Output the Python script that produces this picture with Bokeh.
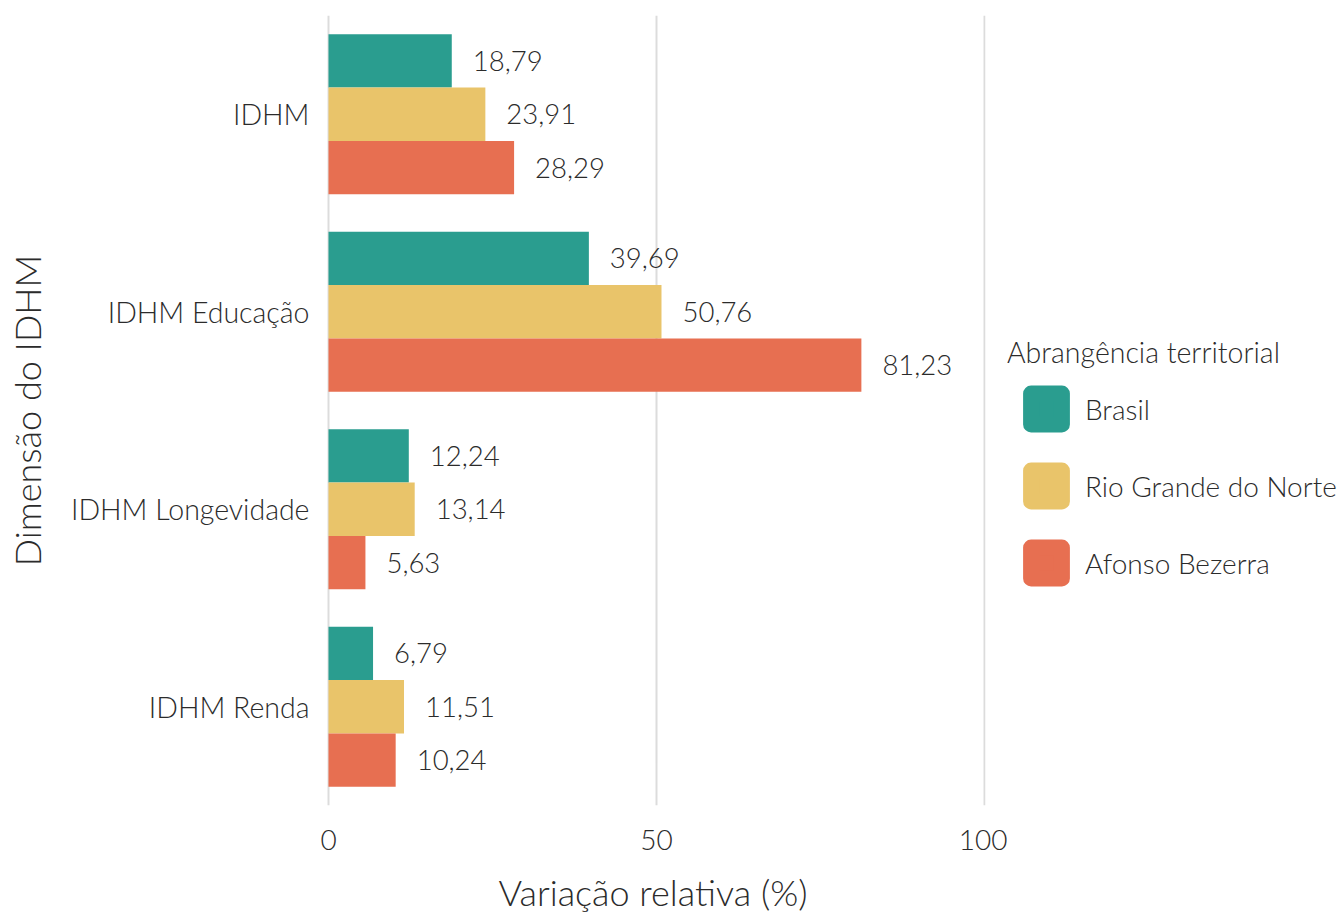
from bokeh.plotting import figure
from bokeh.layouts import row
from bokeh.models import (FactorRange, Range1d, Legend, LegendItem,
                          ColumnDataSource)
from bokeh.transform import dodge
from bokeh.core.properties import value
from bokeh.embed import file_html
from bokeh.resources import INLINE

# ---------------- data ----------------
categories = ["IDHM", "IDHM Educação", "IDHM Longevidade", "IDHM Renda"]
series_names = ["Brasil", "Rio Grande do Norte", "Afonso Bezerra"]
brasil = [18.79, 39.69, 12.24, 6.79]
rio_grande_do_norte = [23.91, 50.76, 13.14, 11.51]
afonso_bezerra = [28.29, 81.23, 5.63, 10.24]
x_ticks = [0, 50, 100]
legend_title = "Abrangência territorial"
x_title = "Variação relativa (%)"
y_title = "Dimensão do IDHM"

# ---------------- style ----------------
FONT = "Lato Light"
TEXT_COLOR = "#2b2b2b"
colors = ["#2A9D8F", "#E9C46A", "#E76F51"]
offsets = [0.27, 0.0, -0.27]
BAR_H = 0.27

p = figure(
    y_range=FactorRange(factors=categories[::-1], range_padding=0),
    x_range=Range1d(-1.22, 100.15),
    width=1007, height=917,
    min_border_left=320, min_border_top=15, min_border_right=22, min_border_bottom=112,
    output_backend="svg", toolbar_location=None,
)
p.outline_line_color = None
p.background_fill_color = "white"
p.border_fill_color = "white"

# legend panel (separate figure to the right, holding only the legend)
pl = figure(width=331, height=917, min_border=0, x_axis_type=None, y_axis_type=None,
            output_backend="svg", toolbar_location=None)
pl.outline_line_color = None
pl.grid.grid_line_color = None
pl.background_fill_color = "white"
pl.border_fill_color = "white"

all_series = [brasil, rio_grande_do_norte, afonso_bezerra]
legend_renderers = []
for name, vals, col, off in zip(series_names, all_series, colors, offsets):
    src = ColumnDataSource(dict(
        cat=categories, val=vals,
        lbl=[f"{v:.2f}".replace(".", ",") for v in vals],
    ))
    ydodge = dodge("cat", off, range=p.y_range)
    p.hbar(y=ydodge, right="val", left=0, height=BAR_H, source=src,
           fill_color=col, line_color=None)
    p.text(x="val", y=ydodge, text="lbl", source=src, x_offset=21,
           text_align="left", text_baseline="middle",
           text_font=value(FONT), text_font_size="27.5px", text_color=TEXT_COLOR)
    # hidden renderer used only for the legend key (rounded square)
    r = pl.scatter(x="val", y="val", source=src, marker="square", size=31,
                   fill_color=col, line_color=col, line_width=16, line_join="round",
                   visible=False)
    legend_renderers.append(r)

# grid
p.ygrid.grid_line_color = None
p.xgrid.grid_line_color = "#dcdcdc"
p.xgrid.grid_line_width = 2

# x axis
p.xaxis.ticker = x_ticks
p.xaxis.axis_label = x_title
p.xaxis.axis_line_color = None
p.xaxis.major_tick_line_color = None
p.xaxis.minor_tick_line_color = None
p.xaxis.major_label_standoff = 18
p.xaxis.axis_label_standoff = 17
p.xaxis.major_label_text_font = FONT
p.xaxis.major_label_text_font_size = "28px"
p.xaxis.major_label_text_color = TEXT_COLOR
p.xaxis.axis_label_text_font = FONT
p.xaxis.axis_label_text_font_size = "36px"
p.xaxis.axis_label_text_font_style = "normal"
p.xaxis.axis_label_text_color = TEXT_COLOR

# y axis
p.yaxis.axis_label = y_title
p.yaxis.axis_line_color = None
p.yaxis.major_tick_line_color = None
p.yaxis.minor_tick_line_color = None
p.yaxis.major_label_standoff = 5
p.yaxis.axis_label_standoff = 19
p.yaxis.major_label_text_font = FONT
p.yaxis.major_label_text_font_size = "28.5px"
p.yaxis.major_label_text_color = TEXT_COLOR
p.yaxis.axis_label_text_font = FONT
p.yaxis.axis_label_text_font_size = "36px"
p.yaxis.axis_label_text_font_style = "normal"
p.yaxis.axis_label_text_color = TEXT_COLOR

# legend
legend = Legend(
    items=[LegendItem(label=n, renderers=[r], index=0) for n, r in zip(series_names, legend_renderers)],
    location=(0, 204),
    title=legend_title, title_text_font=FONT, title_text_font_size="28.5px",
    title_text_font_style="normal", title_text_color=TEXT_COLOR, title_standoff=1,
    glyph_width=78, glyph_height=77, spacing=0, padding=0, margin=0,
    label_standoff=0,
    label_text_font=FONT, label_text_font_size="28px", label_text_color=TEXT_COLOR,
    border_line_color=None, background_fill_alpha=0,
    inactive_fill_alpha=0,
)
pl.add_layout(legend)

layout = row(p, pl)
open("out.html", "w").write(file_html(layout, INLINE))
